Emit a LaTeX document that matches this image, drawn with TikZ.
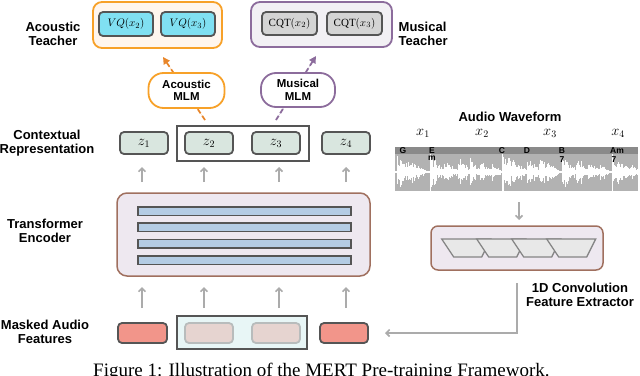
\documentclass[tikz,border=0pt]{standalone}
\usepackage{fontspec}
\setmainfont{Liberation Serif}
\setsansfont{Liberation Sans}
\usetikzlibrary{arrows.meta,calc}
\definecolor{dk}{HTML}{555555}
\definecolor{orA}{HTML}{F7A129}
\definecolor{orB}{HTML}{E8862A}
\definecolor{orFill}{HTML}{FFF6EE}
\definecolor{vq}{HTML}{80E0F2}
\definecolor{pu}{HTML}{8C6C9C}
\definecolor{puFill}{HTML}{F2F0F4}
\definecolor{cqt}{HTML}{D4D4D4}
\definecolor{zf}{HTML}{D9E6DF}
\definecolor{brn}{HTML}{A0705F}
\definecolor{lav}{HTML}{EEE8F0}
\definecolor{layer}{HTML}{B4CCE4}
\definecolor{red}{HTML}{F2958A}
\definecolor{cy}{HTML}{E8F6F6}
\definecolor{fadeF}{HTML}{E6D4D0}
\definecolor{fadeD}{HTML}{B8BCBC}
\definecolor{garr}{HTML}{ABABAB}
\definecolor{wave}{HTML}{B2B2B2}
\definecolor{strip}{HTML}{8A8A8A}
\definecolor{trap}{HTML}{E8E8E8}
\definecolor{trapD}{HTML}{858585}
\tikzset{
  lbl/.style={align=center,font=\sffamily\bfseries\fontsize{13}{13.5}\selectfont,inner sep=0},
  mlm/.style={align=center,font=\sffamily\bfseries\fontsize{11.5}{12.5}\selectfont,inner sep=0,
     rounded corners=15,line width=1.8,fill=white,minimum width=76,minimum height=35},
  tok/.style={draw=dk,line width=1.8,rounded corners=4,inner sep=0,minimum height=22,minimum width=48},
  teach/.style={line width=1.8,rounded corners=9,inner sep=0},
  garrow/.style={draw=garr,line width=1.6,-{Straight Barb[length=3.5pt,width=7pt]}},
  dasharrow/.style={line width=1.8,dash pattern=on 5pt off 3pt,-{Triangle[length=7pt,width=7pt]}},
  chord/.style={font=\sffamily\bfseries\fontsize{8.5}{8.5}\selectfont,inner sep=0,anchor=north},
}
\begin{document}
\begin{tikzpicture}[x=1pt,y=-1pt]
\useasboundingbox (0,0) rectangle (640,375);
% teachers
\node[teach,draw=orA,fill=orFill,minimum width=129,minimum height=46] (at) at (157.5,25) {};
\node[tok,fill=vq,minimum width=54,minimum height=24,font=\fontsize{11}{12}\selectfont] (vq2) at (126,24) {$VQ(x_2)$};
\node[tok,fill=vq,minimum width=54,minimum height=24,font=\fontsize{11}{12}\selectfont] (vq3) at (188,24) {$VQ(x_3)$};
\node[teach,draw=pu,fill=puFill,minimum width=141,minimum height=45] (mt) at (321.5,24.5) {};
\node[tok,fill=cqt,minimum width=55,minimum height=23,font=\fontsize{11}{12}\selectfont] (cq2) at (289.5,23.5) {$\mathrm{CQT}(x_2)$};
\node[tok,fill=cqt,minimum width=55,minimum height=23,font=\fontsize{11}{12}\selectfont] (cq3) at (354.5,23.5) {$\mathrm{CQT}(x_3)$};
\node[lbl] (atl) at (53,34) {Acoustic\\Teacher};
\node[lbl,anchor=west,align=left] (mtl) at (398.5,34) {Musical\\Teacher};
% dashed arrows
\coordinate (as) at (205,120);
\coordinate (ae) at (163,57);
\coordinate (ps) at (276,120);
\coordinate (pe) at (316,56);
\draw[dasharrow,draw=orB,fill=orB] (as) -- (ae);
\draw[dasharrow,draw=pu,fill=pu] (ps) -- (pe);
\node[mlm,draw=orA] (amlm) at (186.5,90.5) {Acoustic\\MLM};
\node[mlm,draw=pu,minimum width=74,minimum height=34] (mmlm) at (298,90) {Musical\\MLM};
% contextual
\node[lbl] (ctl) at (47,143) {Contextual\\Representation};
\node[draw=dk,line width=1.8,fill=white,minimum width=132,minimum height=35,inner sep=0] (zg) at (243,143.5) {};
\foreach \n/\x in {1/144,2/209,3/276,4/346}{
  \node[tok,fill=zf,font=\fontsize{14}{14}\selectfont] (z\n) at (\x,143) {$z_{\n}$};
}
% transformer
\node[draw=brn,fill=lav,line width=1.5,rounded corners=10,minimum width=253,minimum height=83,inner sep=0] (tr) at (243.5,234.5) {};
\foreach \n/\y in {1/211,2/227,3/243.5,4/260}{
  \node[draw=dk,fill=layer,line width=1.5,minimum width=213,minimum height=8.5,inner sep=0] (L\n) at (244.5,\y) {};
}
\node[lbl] (trl) at (45,231) {Transformer\\Encoder};
% masked
\node[draw=dk,line width=1.8,fill=cy,minimum width=130,minimum height=33,inner sep=0] (mg) at (242,332.5) {};
\node[tok,fill=red,minimum height=20,minimum width=49] (m1) at (142.5,333) {};
\node[tok,draw=fadeD,fill=fadeF,minimum height=20] (m2) at (209,333) {};
\node[tok,draw=fadeD,fill=fadeF,minimum height=20] (m3) at (276,333) {};
\node[tok,fill=red,minimum height=20] (m4) at (344,333) {};
\node[lbl] (mal) at (45,332) {Masked Audio\\Features};
% gray arrows
\foreach \x in {142,204,279,346}{
  \coordinate (ua\x) at (\x,182);
  \coordinate (ub\x) at (\x,167);
  \coordinate (la\x) at (\x,308);
  \coordinate (lb\x) at (\x,287);
  \draw[garrow] (ua\x) -- (ub\x);
  \draw[garrow] (la\x) -- (lb\x);
}
% waveform
\node[lbl] (awl) at (510,117) {Audio Waveform};
\foreach \n/\x in {1/423,2/482,3/550,4/618}{
  \node[inner sep=0,font=\fontsize{14}{14}\selectfont] (x\n) at (\x,133) {$x_{\n}$};
}
\node[fill=wave,minimum width=243,minimum height=44,inner sep=0] (wv) at (516.5,169) {};
\fill[strip] (395,147) rectangle (638,154);
\begin{scope}
\clip (395,154) rectangle (638,191);
\draw[white,line width=1.2] (395,172) -- (638,172);
\pgfmathsetseed{7}
\foreach \on/\amp/\len in {397/16/28, 430/17/14, 444/12/14, 458/15/12, 470/14/10, 480/10/12, 492/7/8, 502/18/8, 508/15/18, 527/15/12, 539/12/18, 548/9/10, 562/17/14, 576/15/12, 588/11/12, 600/7/8, 612/16/5, 617/11/14, 630/7/8}{
  \foreach \k in {0,1,...,\len}{
    \pgfmathsetmacro\xx{\on+\k}
    \pgfmathsetmacro\hh{\amp*(1-\k/(\len+1))*(0.25+0.75*rnd)+1.5}
    \pgfmathsetmacro\hb{\hh*(0.7+0.6*rnd)}
    \draw[white,line width=0.9] (\xx,172-\hh) -- (\xx,172+\hb);
  }
}
\foreach \x in {430,502,612}{
  \draw[white,line width=0.8] (\x,154) -- (\x,191);
}
\end{scope}
\node[chord] (cg) at (403,147.5) {G};
\node[chord] (ce) at (432,147.5) {E};
\node[chord] (cem) at (432,156) {m};
\node[chord] (cc) at (502,147.5) {C};
\node[chord] (cd) at (527,147.5) {D};
\node[chord] (cb) at (562,147.5) {B};
\node[chord] (cb7) at (562,156) {7};
\node[chord] (cam) at (617,147.5) {Am};
\node[chord] (cam7) at (614,156) {7};
% conv
\node[draw=brn,fill=lav,line width=1.5,rounded corners=7,minimum width=172,minimum height=44,inner sep=0] (cv) at (517,248) {};
\foreach \i in {0,1,2,3}{
  \draw[draw=trapD,fill=trap,line width=1.3] ($(441.7,239)+(35*\i,0)$) -- ++(49,0) -- ++(-9,18) -- ++(-28,0) -- cycle;
}
\node[lbl] (cvl) at (580,295) {1D Convolution\\Feature Extractor};
\coordinate (wd1) at (519,202);
\coordinate (wd2) at (519,220);
\draw[garrow] (wd1) -- (wd2);
\coordinate (el1) at (517,283);
\coordinate (el2) at (385,333);
\draw[garrow] (el1) |- (el2);
% caption
\node[anchor=base west,inner sep=0,font=\rmfamily\fontsize{19}{19}\selectfont] (cap) at (93,376.5) {Figure 1: Illustration of the MERT Pre-training Framework.};
\end{tikzpicture}
\end{document}
